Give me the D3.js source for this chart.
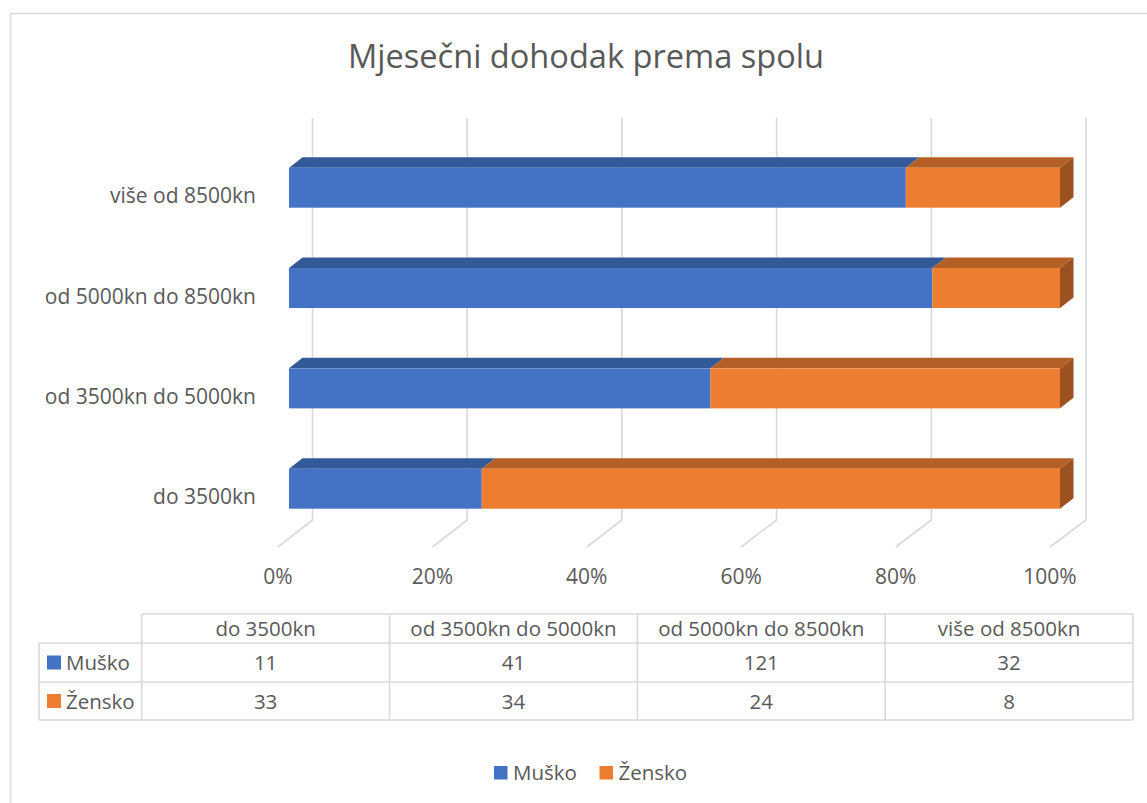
<!DOCTYPE html>
<html>
<head>
<meta charset="utf-8">
<script src="https://cdn.jsdelivr.net/npm/d3@7"></script>
<style>
  html, body { margin: 0; padding: 0; background: #fff; }
  svg text { font-family: "Open Sans", "Noto Sans", sans-serif; fill: #595959; }
</style>
</head>
<body>
<svg id="chart" width="1147" height="803"></svg>
<script>
// ---- data ----
const title = "Mjesečni dohodak prema spolu";
const categories = ["do 3500kn", "od 3500kn do 5000kn", "od 5000kn do 8500kn", "više od 8500kn"];
const seriesNames = ["Muško", "Žensko"];
const musko = [11, 41, 121, 32];
const zensko = [33, 34, 24, 8];
const tickValues = [0, 0.2, 0.4, 0.6, 0.8, 1.0];

// ---- styling ----
const front = { "Muško": "#4472C4", "Žensko": "#ED7D31" };
const topC  = { "Muško": "#335A98", "Žensko": "#B45F25" };
const sideC = { "Muško": "#2C4E85", "Žensko": "#9C5220" };

const svg = d3.select("#chart");

// chart border (left + top visible)
svg.append("path").attr("d", "M10.5,803 L10.5,13.5 L1147,13.5")
  .attr("fill", "none").attr("stroke", "#D9D9D9").attr("stroke-width", 1.5);

// title
svg.append("text").attr("x", 586).attr("y", 68).attr("text-anchor", "middle")
  .style("font-size", "32.6px").text(title);

// rows built from arrays
const rows = categories.map((c, i) => ({ cat: c, "Muško": musko[i], "Žensko": zensko[i] }));
const stack = d3.stack().keys(seriesNames).offset(d3.stackOffsetExpand);
const stacked = stack(rows);

// scales
const xFront = d3.scaleLinear().domain([0, 1]).range([289, 1060]);
const xWall  = d3.scaleLinear().domain([0, 1]).range([312.5, 1086]);
const xFloor = d3.scaleLinear().domain([0, 1]).range([278, 1050]);
const yCat = d3.scalePoint().domain(categories.slice().reverse()).range([187.7, 488.7]);
const barH = 40;
const dx = 13.5, dy = -10.5;
const wallTop = 118, wallBottom = 520, floorFrontY = 547;

// gridlines on back wall + floor
const grid = svg.append("g");
tickValues.forEach(t => {
  grid.append("path")
    .attr("d", `M${xWall(t)},${wallTop} L${xWall(t)},${wallBottom} L${xFloor(t)},${floorFrontY}`)
    .attr("fill", "none").attr("stroke", "#D9D9D9").attr("stroke-width", 1.6);
});

// axis tick labels
svg.append("g").selectAll("text").data(tickValues).join("text")
  .attr("x", d => xFloor(d)).attr("y", 584).attr("text-anchor", "middle")
  .style("font-size", "21px").text(d3.format(".0%"));

// category labels
svg.append("g").selectAll("text").data(categories).join("text")
  .attr("x", 256).attr("y", d => yCat(d) + 15.5).attr("text-anchor", "end")
  .style("font-size", "21px").text(d => d);

// 3D bars
const bars = svg.append("g");
stacked.forEach((layer, li) => {
  const key = layer.key;
  layer.forEach((seg, i) => {
    const cat = rows[i].cat;
    const x0 = xFront(seg[0]), x1 = xFront(seg[1]);
    const yt = yCat(cat) - barH / 2, yb = yt + barH;
    // top face
    bars.append("path")
      .attr("d", `M${x0},${yt} L${x0 + dx},${yt + dy} L${x1 + dx},${yt + dy} L${x1},${yt} Z`)
      .attr("fill", topC[key]);
    // right side (last series only)
    if (li === stacked.length - 1) {
      bars.append("path")
        .attr("d", `M${x1},${yt} L${x1 + dx},${yt + dy} L${x1 + dx},${yb + dy} L${x1},${yb} Z`)
        .attr("fill", sideC[key]);
    }
    // front face
    bars.append("rect")
      .attr("x", x0).attr("y", yt).attr("width", x1 - x0).attr("height", barH)
      .attr("fill", front[key]);
  });
});

// data table
const tblCol = d3.scaleBand().domain(categories).range([141.7, 1133]);
const tblLeft = 39;
const hdrTop = 614, hdrBot = 643, r1Bot = 682, r2Bot = 720;
const rowCenters = [662.5, 701];
const tbl = svg.append("g");
const line = (x1, y1, x2, y2) => tbl.append("line")
  .attr("x1", x1).attr("y1", y1).attr("x2", x2).attr("y2", y2)
  .attr("stroke", "#D9D9D9").attr("stroke-width", 1.6);
line(141.7, hdrTop, 1133, hdrTop);
line(tblLeft, hdrBot, 1133, hdrBot);
line(tblLeft, r1Bot, 1133, r1Bot);
line(tblLeft, r2Bot, 1133, r2Bot);
line(tblLeft, hdrBot, tblLeft, r2Bot);
categories.forEach(c => line(tblCol(c), hdrTop, tblCol(c), r2Bot));
line(1133, hdrTop, 1133, r2Bot);

tbl.selectAll("text.hdr").data(categories).join("text").attr("class", "hdr")
  .attr("x", d => tblCol(d) + tblCol.bandwidth() / 2).attr("y", 636)
  .attr("text-anchor", "middle").style("font-size", "20.5px").text(d => d);

const seriesVals = [musko, zensko];
seriesNames.forEach((s, si) => {
  const cy = rowCenters[si];
  tbl.append("rect").attr("x", 47).attr("y", cy - 7).attr("width", 14).attr("height", 14).attr("fill", front[s]);
  tbl.append("text").attr("x", 66).attr("y", cy + 7.5).style("font-size", "20.5px").text(s);
  tbl.selectAll(null).data(seriesVals[si]).join("text")
    .attr("x", (d, i) => tblCol(categories[i]) + tblCol.bandwidth() / 2).attr("y", cy + 7.5)
    .attr("text-anchor", "middle").style("font-size", "20.5px").text(d => d);
});

// bottom legend
const legX = [494, 599.5];
const leg = svg.append("g");
seriesNames.forEach((s, i) => {
  leg.append("rect").attr("x", legX[i]).attr("y", 766).attr("width", 13.5).attr("height", 13.5).attr("fill", front[s]);
  leg.append("text").attr("x", legX[i] + 19).attr("y", 779.5).style("font-size", "20.5px").text(s);
});
</script>
</body>
</html>
